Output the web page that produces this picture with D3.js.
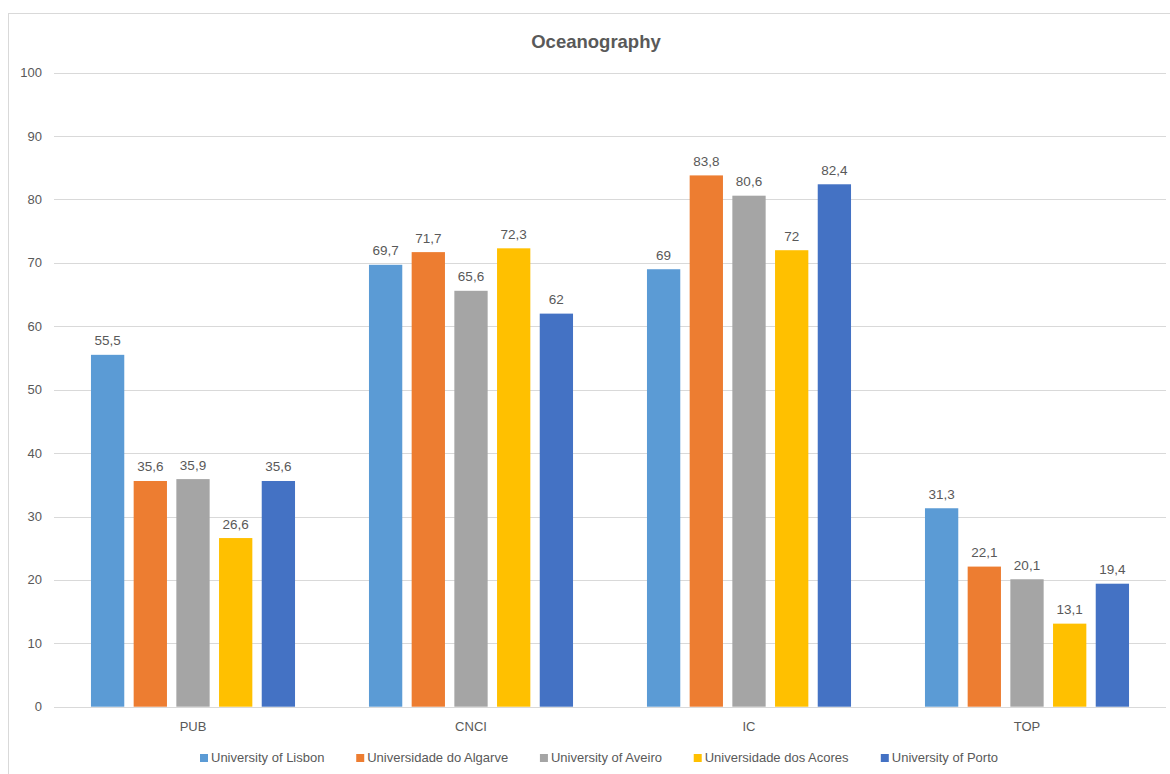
<!DOCTYPE html>
<html>
<head>
<meta charset="utf-8">
<script src="https://cdn.jsdelivr.net/npm/d3@7"></script>
<style>
  html, body { margin: 0; padding: 0; background: #fff; }
  svg { display: block; font-family: "Liberation Sans", Arial, sans-serif; }
</style>
</head>
<body>
<svg id="chart" width="1170" height="774"></svg>
<script>
const title = "Oceanography";
const categories = ["PUB", "CNCI", "IC", "TOP"];
const seriesNames = ["University of Lisbon", "Universidade do Algarve", "University of Aveiro", "Universidade dos Acores", "University of Porto"];
const seriesColors = ["#5B9BD5", "#ED7D31", "#A5A5A5", "#FFC000", "#4472C4"];
const lisbon  = [55.5, 69.7, 69, 31.3];
const algarve = [35.6, 71.7, 83.8, 22.1];
const aveiro  = [35.9, 65.6, 80.6, 20.1];
const acores  = [26.6, 72.3, 72, 13.1];
const porto   = [35.6, 62, 82.4, 19.4];
const seriesValues = [lisbon, algarve, aveiro, acores, porto];
const yTicks = [0, 10, 20, 30, 40, 50, 60, 70, 80, 90, 100];

const svg = d3.select("#chart");
const plot = { left: 54, right: 1166, top: 72.7, bottom: 706.7 };

// outer chart border
svg.append("rect")
  .attr("x", 8.5).attr("y", 13.5)
  .attr("width", 1180).attr("height", 800)
  .attr("fill", "#fff").attr("stroke", "#d9d9d9").attr("stroke-width", 1);

const y = d3.scaleLinear().domain([0, 100]).range([plot.bottom, plot.top]);
const x0 = d3.scaleBand().domain(categories).range([plot.left, plot.right])
  .paddingInner(0.266).paddingOuter(0.133);
const x1 = d3.scaleBand().domain(seriesNames).range([0, x0.bandwidth()])
  .paddingInner(0.22).paddingOuter(0);

// gridlines
svg.append("g").selectAll("line").data(yTicks).join("line")
  .attr("x1", plot.left).attr("x2", plot.right)
  .attr("y1", d => Math.round(y(d)) + 0.5).attr("y2", d => Math.round(y(d)) + 0.5)
  .attr("stroke", "#d9d9d9").attr("stroke-width", 1);

// y tick labels
svg.append("g").selectAll("text").data(yTicks).join("text")
  .attr("x", 42).attr("y", d => y(d))
  .attr("dy", "0.35em")
  .attr("text-anchor", "end")
  .attr("font-size", 13).attr("fill", "#595959")
  .text(d => d);

// bars
const rows = [];
categories.forEach((c, ci) => {
  seriesNames.forEach((s, si) => {
    rows.push({ cat: c, series: s, value: seriesValues[si][ci], color: seriesColors[si] });
  });
});

svg.append("g").selectAll("rect").data(rows).join("rect")
  .attr("x", d => x0(d.cat) + x1(d.series))
  .attr("y", d => y(d.value))
  .attr("width", x1.bandwidth())
  .attr("height", d => y(0) - y(d.value))
  .attr("fill", d => d.color);

// data labels
svg.append("g").selectAll("text").data(rows).join("text")
  .attr("x", d => x0(d.cat) + x1(d.series) + x1.bandwidth() / 2)
  .attr("y", d => y(d.value) - 9.5)
  .attr("text-anchor", "middle")
  .attr("font-size", 13.5).attr("fill", "#595959")
  .text(d => String(d.value).replace(".", ","));

// category labels
svg.append("g").selectAll("text").data(categories).join("text")
  .attr("x", d => x0(d) + x0.bandwidth() / 2)
  .attr("y", 731)
  .attr("text-anchor", "middle")
  .attr("font-size", 13).attr("fill", "#595959")
  .text(d => d);

// title
svg.append("text")
  .attr("x", 596).attr("y", 48)
  .attr("text-anchor", "middle")
  .attr("font-size", 18.5).attr("font-weight", "bold").attr("fill", "#595959")
  .text(title);

// legend
const legend = svg.append("g");
const items = legend.selectAll("g").data(seriesNames).join("g");
items.append("rect").attr("width", 8).attr("height", 8).attr("y", -8)
  .attr("fill", (d, i) => seriesColors[i]);
items.append("text").attr("x", 11).attr("y", 0)
  .attr("font-size", 13).attr("fill", "#595959")
  .text(d => d);
let widths = [];
items.each(function () { widths.push(this.getBBox().width); });
const legStart = 200, legEnd = 998;
const gap = (legEnd - legStart - d3.sum(widths)) / (widths.length - 1);
let cx = legStart;
items.attr("transform", (d, i) => {
  const t = `translate(${cx},${762})`;
  cx += widths[i] + gap;
  return t;
});
</script>
</body>
</html>
